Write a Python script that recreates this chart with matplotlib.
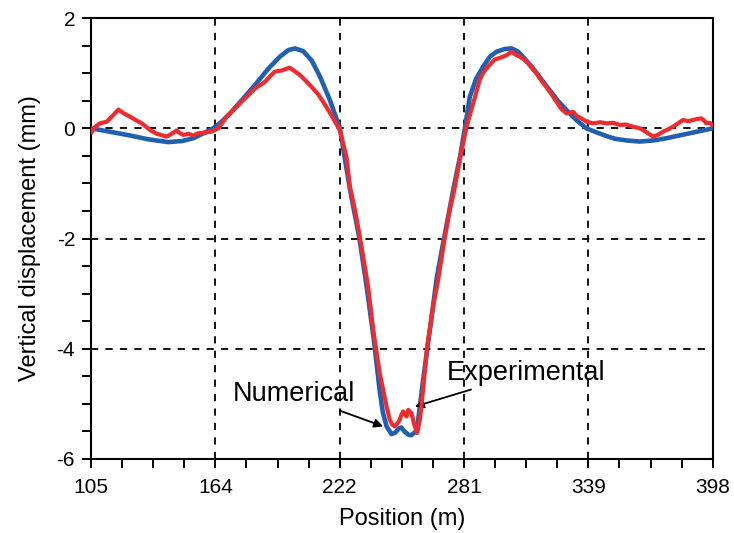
import matplotlib
matplotlib.use('Agg')
import matplotlib.pyplot as plt
import numpy as np

plt.rcParams['font.family'] = ['Liberation Sans', 'DejaVu Sans']
plt.rcParams['axes.unicode_minus'] = False

# numerical (blue) curve
num_x = [105, 115, 123.4, 132, 141.4, 148, 153.2, 158, 162.6, 166, 170.5, 176.5, 183, 188.5,
         194, 198, 201.1, 205, 209, 212.9, 217.6, 222.3, 224, 227, 231.5, 235, 238.5, 241,
         242.5, 244.3, 246.6, 248.5, 250, 251.3, 252.7, 254.5, 256, 258.1, 259.2, 261.5,
         264.7, 267, 268, 271.5, 276, 279, 281.2, 283.5, 286.5, 289.8, 293, 296.1, 300,
         303.2, 306, 309, 313.3, 317, 321.2, 325, 329.1, 334, 338.5, 343, 347.9, 352,
         357.3, 363.6, 370, 376.2, 381, 387.1, 392, 398]
num_y = [0.0, -0.07, -0.13, -0.20, -0.25, -0.23, -0.18, -0.09, 0.0, 0.1, 0.27, 0.53, 0.82, 1.08,
         1.30, 1.42, 1.45, 1.40, 1.23, 0.94, 0.51, 0.0, -0.4, -1.1, -2.0, -2.9, -3.9, -4.75,
         -5.15, -5.41, -5.55, -5.52, -5.45, -5.43, -5.5, -5.56, -5.57, -5.5, -5.29, -4.57,
         -3.66, -2.99, -2.7, -1.97, -1.06, -0.5, 0.0, 0.57, 0.9, 1.12, 1.30, 1.39, 1.44,
         1.45, 1.40, 1.28, 1.09, 0.90, 0.69, 0.50, 0.33, 0.14, 0.0, -0.07, -0.14, -0.19,
         -0.22, -0.24, -0.22, -0.18, -0.14, -0.09, -0.05, 0.0]

# experimental (red) curve
exp_x = [105.3, 107, 109.2, 112.4, 115, 117.9, 120.5, 123.4, 126, 128.9, 132.8, 136, 138,
         140.6, 143, 145.4, 147, 148.5, 151, 153.2, 155.5, 157.9, 161.8, 165, 168.9, 172.8,
         176.7, 179.5, 182.2, 186.9, 189.5, 191.7, 195, 197, 198.7, 200.5, 203.4, 206.5,
         209.7, 212, 214.4, 217, 219.1, 221, 222.3, 225.4, 227, 229.5, 231.7, 233.8, 235.6,
         238, 241.1, 244.3, 245.8, 247, 248.2, 249.5, 250.5, 251.3, 252.1, 253.7, 254.5,
         255.3, 256, 257.6, 258.7, 260, 261.5, 263.4, 266.2, 268.6, 271.8, 274, 276.5,
         278.8, 280.5, 282, 285.1, 288.2, 290, 292.1, 295.3, 297, 299.2, 301, 303.2, 305,
         307.1, 309, 311, 313, 314.9, 317, 319.6, 322, 324.4, 326.5, 329.1, 332.2, 334,
         336.1, 338.5, 341.6, 345, 347.9, 351, 354.2, 357, 360.4, 363.6, 365.5, 367.5,
         369.9, 372, 374.6, 377, 379.3, 382, 384, 386.5, 388.7, 390.5, 392.6, 394, 395,
         396.5, 398]
exp_y = [-0.07, 0.03, 0.09, 0.12, 0.22, 0.34, 0.27, 0.21, 0.15, 0.09, -0.03, -0.10, -0.12,
         -0.15, -0.10, -0.04, -0.09, -0.12, -0.10, -0.13, -0.09, -0.08, -0.06, 0.0, 0.21, 0.36,
         0.51, 0.62, 0.72, 0.84, 0.95, 1.03, 1.05, 1.08, 1.10, 1.05, 0.97, 0.85,
         0.72, 0.62, 0.48, 0.32, 0.18, 0.05, -0.03, -0.52, -1.06, -1.5, -1.97, -2.45, -2.87,
         -3.66, -4.45, -5.05, -5.29, -5.38, -5.41, -5.35, -5.29, -5.20, -5.14, -5.23, -5.11,
         -5.14, -5.17, -5.41, -5.53, -5.29, -4.75, -3.96, -3.24, -2.75, -1.97, -1.5, -1.06,
         -0.58, -0.25, 0.03, 0.45, 0.88, 1.02, 1.12, 1.25, 1.27, 1.30, 1.33, 1.39, 1.34,
         1.30, 1.25, 1.18, 1.08, 1.0, 0.88, 0.75, 0.62, 0.48, 0.36, 0.27, 0.30, 0.22,
         0.18, 0.12, 0.09, 0.11, 0.09, 0.10, 0.06, 0.07, 0.03, 0.0, -0.04, -0.09,
         -0.15, -0.12, -0.06, -0.02, 0.03, 0.10, 0.15, 0.13, 0.15, 0.17, 0.18, 0.14, 0.09,
         0.10, 0.06]

x_tick_labels = ['105', '164', '222', '281', '339', '398']
y_ticks = [-6, -4, -2, 0, 2]

fig = plt.figure(figsize=(7.34, 5.33), dpi=100)
ax = fig.add_axes([0.124, 0.139, 0.847, 0.827])

xt = np.linspace(105, 398, len(x_tick_labels))
for v in xt[1:-1]:
    ax.axvline(v, color='black', ls=(0, (4, 4)), lw=1.3, zorder=1)
for v in y_ticks[1:-1]:
    ax.axhline(v, color='black', ls=(0, (4, 4)), lw=1.3, zorder=1)

ax.plot(num_x, num_y, color='#2160b0', lw=3.3, zorder=3)
ax.plot(exp_x, exp_y, color='#ef2b2d', lw=3.0, zorder=4)

ax.annotate('Numerical', xy=(242.7, -5.41), xytext=(229.4, -4.82),
            fontsize=19.5, ha='right', va='center',
            arrowprops=dict(arrowstyle='-|>', color='black', lw=1.3, mutation_scale=13,
                            shrinkA=2, shrinkB=0))
ax.annotate('Experimental', xy=(257.6, -5.05), xytext=(272.5, -4.44),
            fontsize=19.5, ha='left', va='center',
            arrowprops=dict(arrowstyle='-|>', color='black', lw=1.3, mutation_scale=13,
                            shrinkA=2, shrinkB=0))

ax.set_xlim(105, 398)
ax.set_ylim(-6, 2)
ax.set_xticks(xt)
ax.set_xticklabels(x_tick_labels)
ax.set_xticks(np.linspace(105, 398, 21), minor=True)
ax.set_yticks(y_ticks)
ax.set_yticks(np.arange(-6, 2.01, 0.5), minor=True)
ax.tick_params(which='both', direction='out', length=6.5, width=1.4, labelsize=15, pad=5)
ax.tick_params(axis='x', pad=7)
for s in ax.spines.values():
    s.set_linewidth(1.5)
ax.set_xlabel('Position (m)', fontsize=17, labelpad=8)
ax.set_ylabel('Vertical displacement (mm)', fontsize=17, labelpad=11)

fig.savefig('out.png', dpi=100)
